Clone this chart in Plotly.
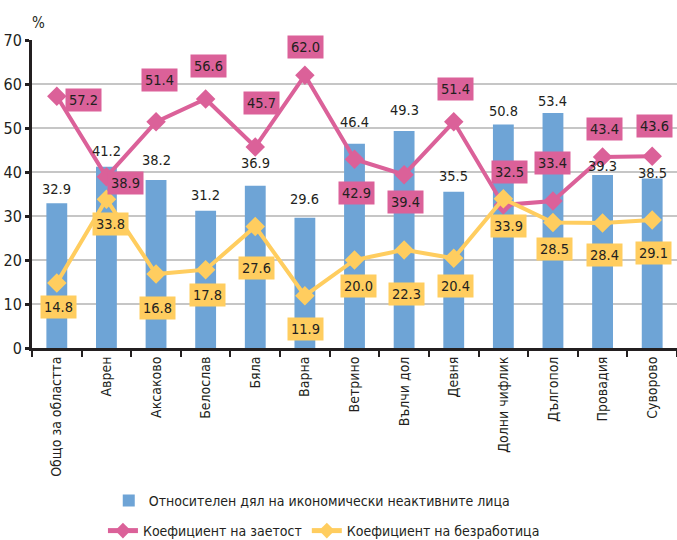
import plotly.graph_objects as go

# Municipalities of Varna district
categories = ["Общо за областта", "Аврен", "Аксаково", "Белослав", "Бяла", "Варна",
              "Ветрино", "Вълчи дол", "Девня", "Долни чифлик", "Дългопол", "Провадия", "Суворово"]

# Share of economically inactive persons, %
inactive = [32.9, 41.2, 38.2, 31.2, 36.9, 29.6, 46.4, 49.3, 35.5, 50.8, 53.4, 39.3, 38.5]
# Employment rate, %
employment = [57.2, 38.9, 51.4, 56.6, 45.7, 62.0, 42.9, 39.4, 51.4, 32.5, 33.4, 43.4, 43.6]
# Unemployment rate, %
unemployment = [14.8, 33.8, 16.8, 17.8, 27.6, 11.9, 20.0, 22.3, 20.4, 33.9, 28.5, 28.4, 29.1]

y_ticks = [0, 10, 20, 30, 40, 50, 60, 70]

BLUE = "#6EA4D6"
PINK = "#DB6199"
YELLOW = "#FFCD5F"
TEXT = "#231F20"
FONT = "Liberation Sans Narrow, DejaVu Sans Condensed, Arial Narrow, sans-serif"

# label placement (pixel offsets from each point)
bar_lbl_up = [14, 16, 20, 16, 23, 19, 22, 21, 16, 13, 12, 9, 6]
emp_dx = [27, 19, 3, 3, 6, 1, 2, 1, 2, 6, 0, 2, 2]
emp_dy = [4, 6, -42, -33, -44, -28, 34, 27, -33, -33, -38, -28, -30]
unemp_dx = [2, 4, 1, 2, 1, 1, 4, 2, 2, 5, 2, 2, 1]
unemp_dy = [24, 25, 34, 25, 41, 33, 26, 44, 28, 27, 26, 32, 33]

LBL_SIZE = 14.5

fig = go.Figure()

fig.add_trace(go.Bar(
    x=categories, y=inactive, name="Относителен дял на икономически неактивните лица",
    marker=dict(color=BLUE, line=dict(width=0)), width=0.42, legend="legend",
))
fig.add_trace(go.Scatter(
    x=categories, y=employment, name="Коефициент на заетост", mode="lines+markers",
    line=dict(color=PINK, width=4), marker=dict(symbol="diamond", size=15, color=PINK),
    legend="legend2",
))
fig.add_trace(go.Scatter(
    x=categories, y=unemployment, name="Коефициент на безработица", mode="lines+markers",
    line=dict(color=YELLOW, width=4), marker=dict(symbol="diamond", size=15, color=YELLOW),
    legend="legend2",
))

annotations = []
for i, c in enumerate(categories):
    annotations.append(dict(
        x=c, y=inactive[i], xref="x", yref="y", text=f"{inactive[i]:.1f}",
        showarrow=False, yshift=bar_lbl_up[i], yanchor="middle",
        font=dict(family=FONT, size=LBL_SIZE, color=TEXT),
    ))
    annotations.append(dict(
        x=c, y=employment[i], xref="x", yref="y", text=f"{employment[i]:.1f}",
        showarrow=False, xshift=emp_dx[i], yshift=-emp_dy[i], yanchor="middle",
        bgcolor=PINK, borderpad=3, font=dict(family=FONT, size=LBL_SIZE, color=TEXT),
    ))
    annotations.append(dict(
        x=c, y=unemployment[i], xref="x", yref="y", text=f"{unemployment[i]:.1f}",
        showarrow=False, xshift=unemp_dx[i], yshift=-unemp_dy[i], yanchor="middle",
        bgcolor=YELLOW, borderpad=3, font=dict(family=FONT, size=LBL_SIZE, color=TEXT),
    ))

annotations.append(dict(
    x=0, y=1, xref="paper", yref="paper", text="%", showarrow=False,
    xanchor="left", yanchor="bottom", xshift=-2, yshift=6,
    font=dict(family=FONT, size=15, color=TEXT),
))

fig.update_layout(
    width=677, height=540,
    margin=dict(l=32, r=0, t=40, b=192, autoexpand=False),
    paper_bgcolor="white", plot_bgcolor="white",
    font=dict(family=FONT, size=14, color=TEXT),
    annotations=annotations,
    legend=dict(
        orientation="h", x=0.119, xanchor="left", yref="container",
        y=1 - 501 / 540, yanchor="middle",
        font=dict(family=FONT, size=14, color=TEXT), itemwidth=30,
        bgcolor="rgba(0,0,0,0)",
    ),
    legend2=dict(
        orientation="h", x=0.11, xanchor="left", yref="container",
        y=1 - 531 / 540, yanchor="middle",
        font=dict(family=FONT, size=14, color=TEXT), itemwidth=30,
        itemsizing="constant", tracegroupgap=0,
        bgcolor="rgba(0,0,0,0)",
    ),
    showlegend=True,
)

fig.update_xaxes(
    type="category", range=[-0.5, len(categories) - 0.5], automargin=False,
    tickangle=-90, tickson="boundaries", ticks="outside", ticklen=6,
    tickwidth=2, tickcolor="#231F20",
    showline=True, linecolor="#231F20", linewidth=3,
    showgrid=False, tickfont=dict(family=FONT, size=14, color=TEXT),
)
fig.update_yaxes(
    range=[0, 70], tickvals=y_ticks, ticks="outside", ticklen=4, tickwidth=3,
    automargin=False,
    tickcolor="#231F20", showline=True, linecolor="#231F20", linewidth=3,
    showgrid=True, gridcolor="#C6C6C6", gridwidth=1.5, zeroline=False,
    tickfont=dict(family=FONT, size=16, color=TEXT),
)

fig.write_html("out.html")
